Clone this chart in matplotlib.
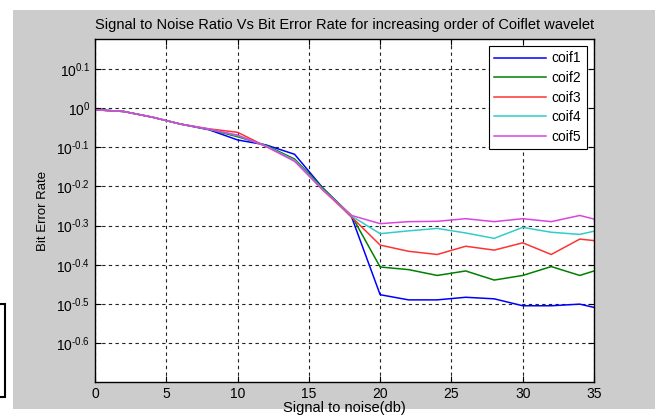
import numpy as np
import matplotlib
matplotlib.use('Agg')
import matplotlib.pyplot as plt
from matplotlib.patches import Rectangle

plt.rcParams['font.family'] = ['Liberation Sans', 'DejaVu Sans']
plt.rcParams['mathtext.fontset'] = 'custom'
plt.rcParams['mathtext.rm'] = 'Liberation Sans'
plt.rcParams['mathtext.it'] = 'Liberation Sans'

# datos
snr = [0, 2, 4, 6, 8, 10, 12, 14, 16, 18, 20, 22, 24, 26, 28, 30, 32, 34, 35]
coif1 = [0.990, 0.980, 0.948, 0.910, 0.880, 0.829, 0.805, 0.762, 0.624, 0.527,
         0.334, 0.324, 0.324, 0.329, 0.326, 0.313, 0.313, 0.316, 0.310]
coif2 = [0.990, 0.980, 0.948, 0.910, 0.882, 0.845, 0.803, 0.741, 0.624, 0.531,
         0.393, 0.387, 0.374, 0.384, 0.364, 0.374, 0.394, 0.374, 0.384]
coif3 = [0.990, 0.980, 0.948, 0.910, 0.885, 0.867, 0.798, 0.736, 0.617, 0.527,
         0.447, 0.431, 0.423, 0.444, 0.434, 0.453, 0.423, 0.463, 0.459]
coif4 = [0.990, 0.980, 0.948, 0.910, 0.883, 0.850, 0.800, 0.735, 0.619, 0.530,
         0.478, 0.486, 0.493, 0.480, 0.465, 0.496, 0.482, 0.476, 0.485]
coif5 = [0.990, 0.980, 0.948, 0.910, 0.883, 0.853, 0.798, 0.731, 0.617, 0.532,
         0.507, 0.513, 0.514, 0.522, 0.513, 0.522, 0.513, 0.532, 0.521]

series = [coif1, coif2, coif3, coif4, coif5]
names = ['coif1', 'coif2', 'coif3', 'coif4', 'coif5']
colores = ['#0000ff', '#008000', '#ff3333', '#33cccc', '#dd44dd']

ytick_exp = ['0.1', '0', '-0.1', '-0.2', '-0.3', '-0.4', '-0.5', '-0.6']
xticks = [0, 5, 10, 15, 20, 25, 30, 35]

fig = plt.figure(figsize=(6.6, 4.19), dpi=100, facecolor='white')
# fondo gris de la ventana de matlab
fig.patches.append(Rectangle((13 / 660, 1 - 409 / 419), 642 / 660, 399 / 419,
                             transform=fig.transFigure, facecolor='#cccccc',
                             edgecolor='none', zorder=-10))
# recuadro cortado a la izquierda
fig.patches.append(Rectangle((-10 / 660, 1 - 397 / 419), 15 / 660, 93 / 419,
                             transform=fig.transFigure, facecolor='white',
                             edgecolor='black', lw=1.5, zorder=-5))

ax = fig.add_axes([95 / 660, 1 - 382 / 419, 499 / 660, 343 / 419])
ax.set_facecolor('white')

for y, n, c in zip(series, names, colores):
    ax.plot(snr, y, color=c, lw=1.1, label=n)

ax.set_yscale('log')
ax.set_xlim(0, 35)
ax.set_ylim(0.2, 1.5)
ax.set_xticks(xticks)
ax.set_xticklabels([str(t) for t in xticks])
ax.set_yticks([10 ** float(e) for e in ytick_exp])
ax.set_yticklabels([r'$10^{\text{%s}}$' % e for e in ytick_exp])
ax.minorticks_off()
ax.tick_params(direction='in', top=True, right=True, length=4, labelsize=10,
               colors='black')

ax.grid(True, color='#222222', linestyle=(0, (3, 3)), lw=0.8)
for s in ax.spines.values():
    s.set_linewidth(1.0)

ax.set_title('Signal to Noise Ratio Vs Bit Error Rate for increasing order of Coiflet wavelet',
             fontsize=10.5, pad=7)
ax.set_xlabel('Signal to noise(db)', fontsize=10.5, labelpad=0)
ax.set_ylabel('Bit Error Rate', fontsize=9.5, labelpad=5)

leg = ax.legend(loc='upper right', fontsize=10, fancybox=False, framealpha=1,
                edgecolor='black', borderaxespad=0.5, handlelength=3.7,
                handletextpad=0.45, labelspacing=0.4, borderpad=0.4)
leg.get_frame().set_linewidth(0.8)

fig.savefig('out.png', dpi=100, facecolor='white')
